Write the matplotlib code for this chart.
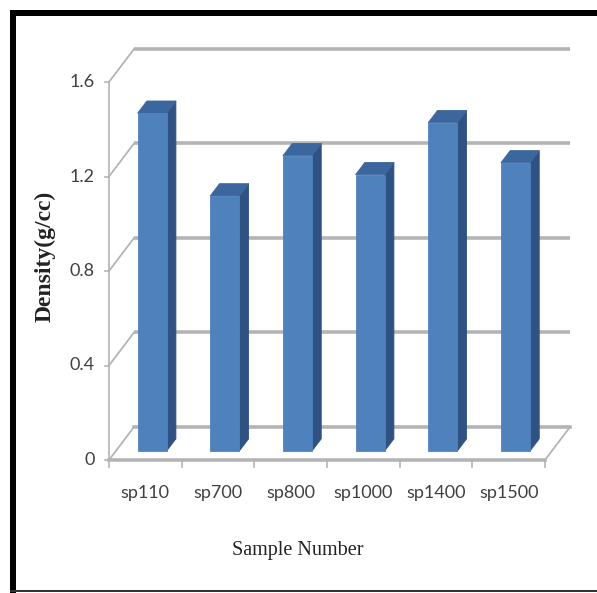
import matplotlib
matplotlib.use('Agg')
import matplotlib.pyplot as plt
from matplotlib.patches import Polygon, Rectangle

# chart data
samples = ['sp110', 'sp700', 'sp800', 'sp1000', 'sp1400', 'sp1500']
density = [1.43, 1.08, 1.25, 1.17, 1.39, 1.22]
y_ticks = [0, 0.4, 0.8, 1.2, 1.6]
y_tick_labels = ['0', '0.4', '0.8', '1.2', '1.6']

# 3D look: full depth offset in data units, bar depth span
DEPTH_X = 0.345
DEPTH_Y = 0.140
BAR_F0, BAR_F1 = 0.27, 0.64
BAR_W = 0.40

FRONT = '#4F81BD'
TOP = '#3C679E'
SIDE = '#2F5282'
GRID = '#B4B4B4'
TEXT = '#404040'


def pt(x, y, f):
    # project a point at depth fraction f back into the front plane
    return (x + f * DEPTH_X, y + f * DEPTH_Y)


fig = plt.figure(figsize=(5.97, 5.93), dpi=100)
ax = fig.add_axes([109 / 597, 133 / 593, 436 / 597, 378 / 593])
ax.set_xlim(0, len(samples))
ax.set_ylim(0, 1.6)
ax.axis('off')

n = len(samples)

# back wall gridlines and left wall diagonals
for yv in y_ticks:
    if yv > 0:
        ax.plot(*zip(pt(0, yv, 1), pt(n, yv, 1)), color=GRID, lw=2.6,
                clip_on=False, solid_capstyle='butt', zorder=1)
    ax.plot(*zip(pt(0, yv, 0), pt(0, yv, 1)), color=GRID, lw=1.3,
            clip_on=False, zorder=1)
    # y tick
    ax.plot([-0.06, 0], [yv, yv], color=GRID, lw=1.2, clip_on=False, zorder=1)

# floor
ax.plot(*zip(pt(0, 0, 1), pt(n, 0, 1)), color=GRID, lw=2.6, clip_on=False, zorder=1)
ax.plot(*zip(pt(0, 0, 0), pt(n, 0, 0)), color=GRID, lw=2.6, clip_on=False, zorder=1)
ax.plot(*zip(pt(n, 0, 0), pt(n, 0, 1)), color=GRID, lw=1.3, clip_on=False, zorder=1)

# front y axis
ax.plot([0, 0], [0, 1.6], color=GRID, lw=1.2, clip_on=False, zorder=1)

# x ticks
for i in range(n + 1):
    ax.plot([i, i], [0, -0.03], color=GRID, lw=1.2, clip_on=False, zorder=1)

# bars
for i, v in enumerate(density):
    x0 = i + 0.5 - BAR_W / 2
    x1 = i + 0.5 + BAR_W / 2
    front = [pt(x0, 0, BAR_F0), pt(x1, 0, BAR_F0), pt(x1, v, BAR_F0), pt(x0, v, BAR_F0)]
    side = [pt(x1, 0, BAR_F0), pt(x1, 0, BAR_F1), pt(x1, v, BAR_F1), pt(x1, v, BAR_F0)]
    top = [pt(x0, v, BAR_F0), pt(x1, v, BAR_F0), pt(x1, v, BAR_F1), pt(x0, v, BAR_F1)]
    for poly, col in ((side, SIDE), (top, TOP), (front, FRONT)):
        ax.add_patch(Polygon(poly, closed=True, facecolor=col, edgecolor=col,
                             lw=0.6, clip_on=False, zorder=3))

# tick labels
for yv, lab in zip(y_ticks, y_tick_labels):
    ax.text(-0.2, yv, lab, ha='right', va='center', fontsize=13,
            color=TEXT, family='Lato')
for i, s in enumerate(samples):
    ax.text(i + 0.5, -0.14, s, ha='center', va='center', fontsize=13,
            color=TEXT, family='Lato')

# axis titles
fig.text(45 / 597, 1 - 256 / 593, 'Density(g/cc)', rotation=90, ha='center',
         va='center', fontsize=17, fontweight='bold', family='Liberation Serif',
         color='#222222')
fig.text(298 / 597, 1 - 550 / 593, 'Sample Number', ha='center', va='center',
         fontsize=14.5, family='Liberation Serif', color='#222222')

# outer frame: thick black on top and left, thin dark line at bottom
fig.add_artist(Rectangle((10 / 597, 0), 6 / 597, 1 - 10 / 593,
                         transform=fig.transFigure, color='black', lw=0))
fig.add_artist(Rectangle((10 / 597, 1 - 16 / 593), 1, 6 / 593,
                         transform=fig.transFigure, color='black', lw=0))
fig.add_artist(Rectangle((10 / 597, 1 - 592 / 593), 1, 2 / 593,
                         transform=fig.transFigure, color='#333333', lw=0))

fig.savefig('out.png', dpi=100)
